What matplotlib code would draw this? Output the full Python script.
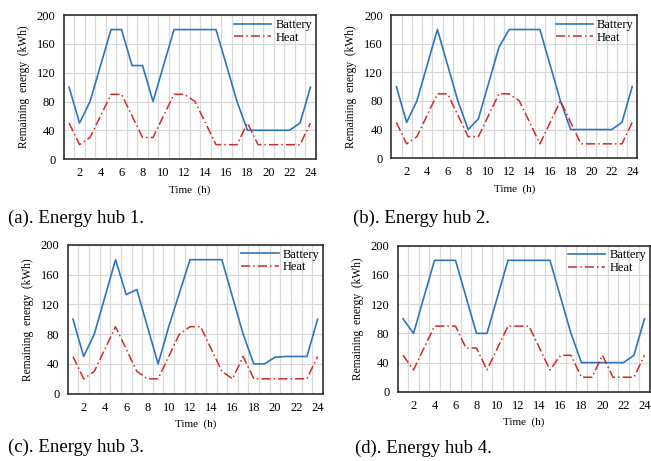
import matplotlib
matplotlib.use("Agg")
import matplotlib.pyplot as plt

plt.rcParams['font.family'] = ['Liberation Serif', 'DejaVu Serif']

hours = list(range(1, 25))
x_ticks = list(range(2, 25, 2))
y_ticks = [0, 40, 80, 120, 160, 200]

battery_1 = [100, 50, 80, 130, 180, 180, 130, 130, 80, 130, 180, 180,
             180, 180, 180, 130, 80, 40, 40, 40, 40, 40, 50, 100]
heat_1 = [50, 20, 30, 60, 90, 90, 60, 30, 30, 60, 90, 90,
          80, 50, 20, 20, 20, 50, 20, 20, 20, 20, 20, 50]

battery_2 = [100, 50, 80, 130, 180, 130, 80, 40, 55, 105, 155, 180,
             180, 180, 180, 130, 80, 40, 40, 40, 40, 40, 50, 100]
heat_2 = [50, 20, 30, 60, 90, 90, 60, 30, 30, 60, 90, 90,
          80, 50, 20, 50, 80, 50, 20, 20, 20, 20, 20, 50]

battery_3 = [100, 50, 80, 130, 180, 133, 140, 90, 40, 90, 135, 180,
             180, 180, 180, 130, 80, 40, 40, 49, 50, 50, 50, 100]
heat_3 = [50, 20, 30, 60, 90, 60, 30, 20, 20, 50, 80, 90,
          90, 60, 30, 20, 50, 20, 20, 20, 20, 20, 20, 50]

battery_4 = [100, 80, 130, 180, 180, 180, 130, 80, 80, 130, 180, 180,
             180, 180, 180, 130, 80, 40, 40, 40, 40, 40, 50, 100]
heat_4 = [50, 30, 60, 90, 90, 90, 60, 60, 30, 60, 90, 90,
          90, 60, 30, 50, 50, 20, 20, 50, 20, 20, 20, 50]

captions = ["(a). Energy hub 1.", "(b). Energy hub 2.",
            "(c). Energy hub 3.", "(d). Energy hub 4."]
batteries = [battery_1, battery_2, battery_3, battery_4]
heats = [heat_1, heat_2, heat_3, heat_4]

# axes boxes in figure fractions
boxes = [[0.098, 0.655, 0.387, 0.312],
         [0.601, 0.657, 0.378, 0.310],
         [0.104, 0.146, 0.392, 0.323],
         [0.611, 0.150, 0.387, 0.317]]
caption_pos = [(0.012, 0.527), (0.543, 0.527), (0.012, 0.029), (0.545, 0.027)]

fig = plt.figure(figsize=(6.51, 4.61), dpi=100)

for i in range(4):
    ax = fig.add_axes(boxes[i])
    ax.plot(hours, batteries[i], color='#2e75c0', lw=1.2, label='Battery')
    ax.plot(hours, heats[i], color='#d02a2a', lw=1.1, ls=(0, (6, 2, 1, 2)),
            label='Heat')
    ax.set_xlim(0.5, 24.5)
    ax.set_ylim(0, 200)
    ax.set_xticks(x_ticks)
    ax.set_yticks(y_ticks)
    ax.set_xticks([h + 0.5 for h in hours[:-1]], minor=True)
    ax.grid(axis='y', which='major', color='#d9d9d9', lw=0.9)
    ax.grid(axis='x', which='minor', color='#d9d9d9', lw=0.9)
    ax.set_axisbelow(True)
    ax.tick_params(which='both', length=0, labelsize=9, pad=6)
    for s in ax.spines.values():
        s.set_color('#303030')
        s.set_linewidth(1.2)
    ax.set_xlabel('Time  (h)', fontsize=8, labelpad=4)
    ax.set_ylabel('Remaining  energy  (kWh)', fontsize=8.3, labelpad=5)
    ax.legend(loc='upper right', frameon=False, fontsize=9,
              handlelength=3.0, handletextpad=0.3, labelspacing=0.05,
              borderaxespad=0.1, borderpad=0.2)
    fig.text(caption_pos[i][0], caption_pos[i][1], captions[i],
             fontsize=13.5, va='center')

fig.savefig('out.png', dpi=100)
